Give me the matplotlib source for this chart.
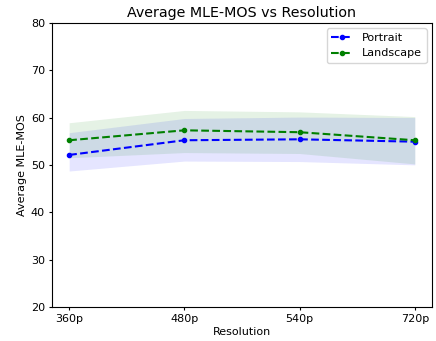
import numpy as np
import matplotlib
matplotlib.use("Agg")
import matplotlib.pyplot as plt

resolutions = ["360p", "480p", "540p", "720p"]

portrait_mean = [52.1, 55.2, 55.4, 54.9]
portrait_low = [48.7, 50.8, 50.7, 50.0]
portrait_high = [56.8, 59.8, 60.1, 60.0]

landscape_mean = [55.2, 57.3, 56.9, 55.2]
landscape_low = [51.5, 52.6, 52.4, 50.2]
landscape_high = [58.9, 61.5, 61.2, 60.2]

x = np.arange(len(resolutions))

fig = plt.figure(figsize=(4.36, 3.41), dpi=100)
ax = fig.add_axes([0.119, 0.1, 0.872, 0.833])

ax.plot(x, portrait_mean, "b.--", label="Portrait")
ax.fill_between(x, portrait_low, portrait_high, color="b", alpha=0.1, linewidth=0)
ax.plot(x, landscape_mean, "g.--", label="Landscape")
ax.fill_between(x, landscape_low, landscape_high, color="g", alpha=0.1, linewidth=0)

ax.set_xticks(x)
ax.set_xticklabels(resolutions)
ax.set_ylim(20, 80)
ax.tick_params(labelsize=8, length=2.5, pad=2.5)
ax.set_xlabel("Resolution", fontsize=8, labelpad=2)
ax.set_ylabel("Average MLE-MOS", fontsize=8, labelpad=3)
ax.set_title("Average MLE-MOS vs Resolution", fontsize=10.3, pad=4)
ax.legend(fontsize=8)

fig.savefig("out.png")
